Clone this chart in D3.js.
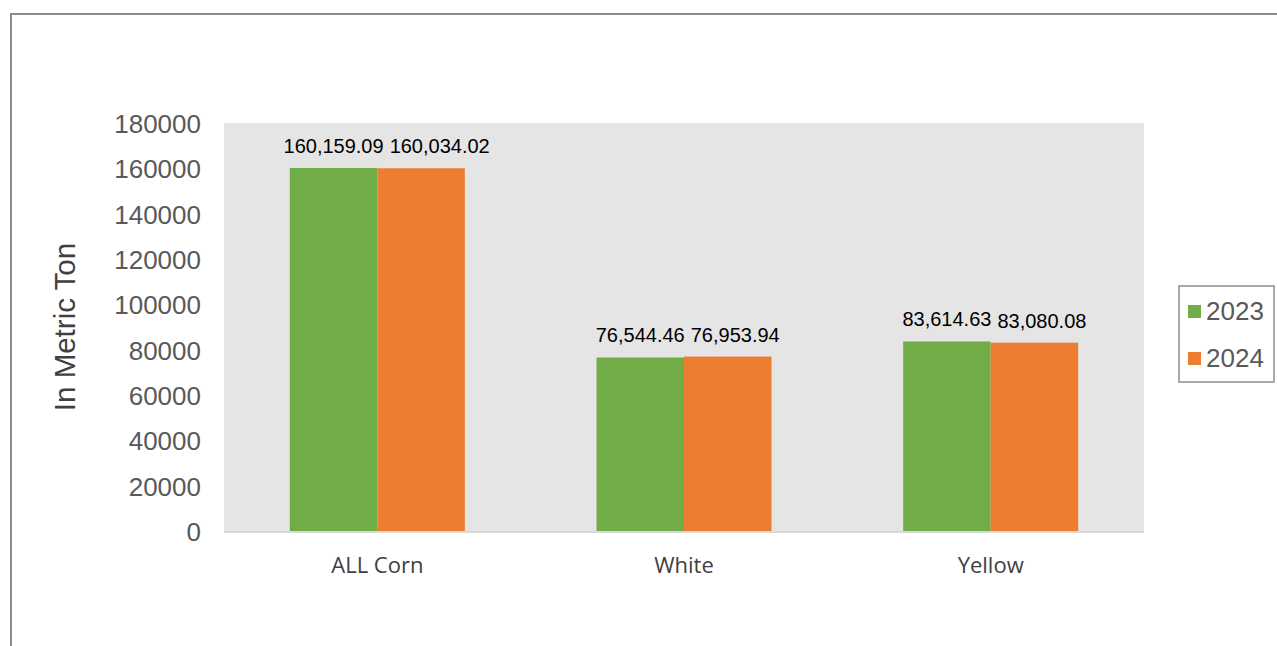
<!DOCTYPE html>
<html><head><meta charset="utf-8">
<script src="https://cdn.jsdelivr.net/npm/d3@7"></script>
<style>body{margin:0;background:#fff}svg{display:block}</style>
</head><body>
<svg id="c" width="1277" height="646"></svg>
<script>
const categories = ["ALL Corn", "White", "Yellow"];
const seriesNames = ["2023", "2024"];
const values2023 = [160159.09, 76544.46, 83614.63];
const values2024 = [160034.02, 76953.94, 83080.08];
const labels2023 = ["160,159.09", "76,544.46", "83,614.63"];
const labels2024 = ["160,034.02", "76,953.94", "83,080.08"];
const yTicks = [0, 20000, 40000, 60000, 80000, 100000, 120000, 140000, 160000, 180000];
const colors = ["#70AD47", "#ED7D31"];

const svg = d3.select("#c");
// outer frame
svg.append("rect").attr("x", 11).attr("y", 14).attr("width", 1300).attr("height", 700)
  .attr("fill", "none").attr("stroke", "#8c8c8c").attr("stroke-width", 2);

const L = 224, R = 1144, T = 123, B = 531;
const x = d3.scaleBand().domain(categories).range([L, R]).paddingInner(0).paddingOuter(0);
const y = d3.scaleLinear().domain([0, 180000]).range([B, T]);
const inner = d3.scaleBand().domain(seriesNames).range([0, 175]);
const groupOffset = (x.bandwidth() - 175) / 2;

svg.append("rect").attr("x", L).attr("y", T).attr("width", R - L).attr("height", B - T).attr("fill", "#E5E5E5");

const series = [values2023, values2024];
const labs = [labels2023, labels2024];
const labelSel = [];
series.forEach((vals, si) => {
  svg.append("g").selectAll("rect").data(vals).join("rect")
    .attr("x", (d, i) => x(categories[i]) + groupOffset + inner(seriesNames[si]))
    .attr("y", d => y(d))
    .attr("width", inner.bandwidth())
    .attr("height", d => B - y(d))
    .attr("fill", colors[si]);
  labelSel.push(svg.append("g").selectAll("text").data(vals).join("text")
    .attr("x", (d, i) => x(categories[i]) + groupOffset + inner(seriesNames[si]) + inner.bandwidth() / 2)
    .attr("y", d => y(d) - 15)
    .attr("text-anchor", "middle")
    .attr("font-family", "Liberation Sans, Arial, sans-serif")
    .attr("font-size", 20).attr("fill", "#000")
    .text((d, i) => labs[si][i]));
});
// nudge right-hand labels so they don't collide with left-hand ones
const leftNodes = labelSel[0].nodes(), rightNodes = labelSel[1].nodes();
rightNodes.forEach((rn, i) => {
  const ln = leftNodes[i];
  const lx = +ln.getAttribute("x"), lw = ln.getComputedTextLength();
  const rx = +rn.getAttribute("x"), rw = rn.getComputedTextLength();
  const need = (lx + lw / 2 + 6) - (rx - rw / 2);
  if (need > 0) rn.setAttribute("x", rx + need);
});

// bottom axis line
svg.append("line").attr("x1", L).attr("x2", R).attr("y1", B + 1).attr("y2", B + 1)
  .attr("stroke", "#D9D9D9").attr("stroke-width", 2);

// y axis
const yAxis = d3.axisLeft(y).tickValues(yTicks).tickSize(0).tickPadding(23).tickFormat(d3.format("d"));
const yg = svg.append("g").attr("transform", `translate(${L},0)`).call(yAxis);
yg.select(".domain").remove();
yg.selectAll("text").attr("font-family", "Liberation Sans, Arial, sans-serif")
  .attr("font-size", 26).attr("fill", "#595959").attr("dy", "0.36em");

// x axis
const xAxis = d3.axisBottom(x).tickSize(0).tickPadding(26);
const xg = svg.append("g").attr("transform", `translate(0,${B})`).call(xAxis);
xg.select(".domain").remove();
xg.selectAll("text").attr("font-family", "Open Sans, Carlito, sans-serif")
  .attr("font-size", 22).attr("fill", "#404040");

// y title
svg.append("text").attr("transform", "translate(75,327) rotate(-90)")
  .attr("text-anchor", "middle").attr("font-family", "Liberation Sans, Arial, sans-serif")
  .attr("font-size", 29.5).attr("fill", "#404040").text("In Metric Ton");

// legend
const lg = svg.append("g");
lg.append("rect").attr("x", 1179).attr("y", 286).attr("width", 95).attr("height", 96)
  .attr("fill", "#fff").attr("stroke", "#8c8c8c").attr("stroke-width", 1.5);
seriesNames.forEach((s, i) => {
  const cy = 311 + i * 47;
  lg.append("rect").attr("x", 1188).attr("y", cy - 6).attr("width", 13).attr("height", 13).attr("fill", colors[i]);
  lg.append("text").attr("x", 1206).attr("y", cy).attr("dy", "0.36em")
    .attr("font-family", "Liberation Sans, Arial, sans-serif").attr("font-size", 26).attr("fill", "#595959").text(s);
});
</script>
</body></html>
